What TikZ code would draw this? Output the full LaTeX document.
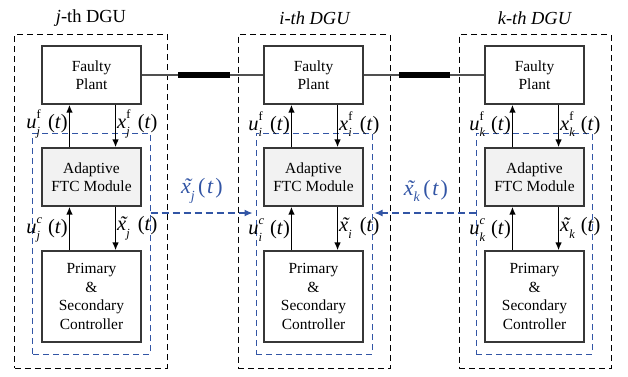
\documentclass[tikz,border=0pt]{standalone}
\usepackage{fontspec}
\setmainfont{Liberation Serif}
\usetikzlibrary{arrows.meta,calc}
\definecolor{dblue}{RGB}{50,85,165}
\definecolor{boxgray}{RGB}{55,55,55}
\definecolor{linegray}{RGB}{80,80,80}
\definecolor{ftcfill}{RGB}{242,242,242}
\newcommand{\lblfnt}{\fontsize{20.5}{20.5}\selectfont}
\newcommand{\scrfnt}{\fontsize{12.5}{12.5}\selectfont}
\newcommand{\xtil}{\makebox[0pt][l]{\hspace{0.12em}\textit{\char"02DC}}\textit{x}}
\newcommand{\subsup}[2]{\makebox[0.4em][l]{\rlap{\raisebox{0.5em}{\scrfnt #2}}\raisebox{-0.32em}{\scrfnt\textit{#1}}}}
\newcommand{\sigf}[3]{\textit{#1}\subsup{#2}{#3}\,(\textit{t})}
\newcommand{\bsig}[2]{\xtil\raisebox{-0.3em}{\fontsize{14}{14}\selectfont\textit{#2}}\hspace{0.15em}(\hspace{0.08em}\textit{t}\hspace{0.08em})}
\begin{document}
\begin{tikzpicture}[x=1bp,y=-1bp,
  blk/.style={draw=boxgray, line width=1.1bp, minimum width=99bp, align=center,
    font=\fontsize{15.5}{18.5}\selectfont, inner sep=0pt},
  plantbox/.style={blk, minimum height=58bp},
  ftcbox/.style={blk, fill=ftcfill, minimum height=58bp},
  ctrlbox/.style={blk, minimum height=91bp},
  outerbox/.style={draw=black, line width=1bp, dash pattern=on 6bp off 4bp, minimum width=152bp, minimum height=334bp, inner sep=0pt},
  bluebox/.style={draw=dblue, line width=1bp, dash pattern=on 6bp off 4bp, minimum width=116bp, minimum height=221bp, inner sep=0pt},
  sig/.style={line width=1.7bp, -{Latex[length=8bp,width=6.5bp]}},
  bluearrow/.style={draw=dblue, line width=1.2bp, dash pattern=on 7bp off 4bp, -{Latex[length=8bp,width=7bp]}},
  pline/.style={draw=linegray, line width=1.1bp},
  bus/.style={draw=black, line width=6bp},
  title/.style={font=\fontsize{18.5}{18.5}\selectfont},
  lbl/.style={font=\lblfnt, inner sep=0pt},
  blbl/.style={font=\fontsize{22}{22}\selectfont, text=dblue, inner sep=0pt}
]
\useasboundingbox (0,0) rectangle (628,376);

% outer DGU boxes
\node[outerbox] (dguj) at (91,201) {};
\node[outerbox] (dgui) at (314,201.5) {};
\node[outerbox] (dguk) at (535,201.5) {};

% titles
\node[title] (tj) at (91,18) {\textit{j}-th DGU};
\node[title] (ti) at (315,18) {\textit{i-th DGU}};
\node[title] (tk) at (535,18) {\textit{k-th DGU}};

% blue boxes
\node[bluebox, minimum width=117bp] (bluej) at (91.5,243.5) {};
\node[bluebox] (bluei) at (314,243.5) {};
\node[bluebox] (bluek) at (534,243.5) {};

% blocks
\foreach \n/\x in {j/91.5, i/313.5, k/534.5} {
  \node[plantbox] (plant\n) at (\x,75) {Faulty\\Plant};
  \node[ftcbox] (ftc\n) at (\x,177) {Adaptive\\FTC Module};
  \node[ctrlbox] (ctrl\n) at (\x,296.5) {Primary\\\&\\Secondary\\Controller};
  \draw[sig] ([xshift=28bp]ctrl\n.north west) -- ([xshift=28bp]ftc\n.south west);
  \draw[sig] ([xshift=28bp]ftc\n.north west) -- ([xshift=28bp]plant\n.south west);
  \draw[sig] ([xshift=-26bp]plant\n.south east) -- ([xshift=-26bp]ftc\n.north east);
  \draw[sig] ([xshift=-26bp]ftc\n.south east) -- ([xshift=-26bp]ctrl\n.north east);
}

% signal labels
\node[lbl, anchor=east] (ufj) at (68,124) {\sigf{u}{j}{f}};
\node[lbl, anchor=west] (xfj) at (117,124) {\sigf{x}{j}{f}};
\node[lbl, anchor=east] (ucj) at (68,230) {\sigf{u}{j}{\textit{c}}};
\node[lbl, anchor=west] (xtj) at (117,228) {\sigf{\xtil}{j}{}};

\node[lbl, anchor=east] (ufi) at (290,124) {\sigf{u}{i}{f}};
\node[lbl, anchor=west] (xfi) at (339,124) {\sigf{x}{i}{f}};
\node[lbl, anchor=east] (uci) at (290,230) {\sigf{u}{i}{\textit{c}}};
\node[lbl, anchor=west] (xti) at (339,228) {\sigf{\xtil}{i}{}};

\node[lbl, anchor=east] (ufk) at (511,124) {\sigf{u}{k}{f}};
\node[lbl, anchor=west] (xfk) at (560,124) {\sigf{x}{k}{f}};
\node[lbl, anchor=east] (uck) at (511,230) {\sigf{u}{k}{\textit{c}}};
\node[lbl, anchor=west] (xtk) at (560,228) {\sigf{\xtil}{k}{}};

% power lines
\draw[pline] (plantj.east) -- (planti.west);
\draw[pline] (planti.east) -- (plantk.west);
\coordinate (busj1) at (178,75);
\coordinate (busj2) at (230,75);
\coordinate (busk1) at (399,75);
\coordinate (busk2) at (450,75);
\draw[bus] (busj1) -- (busj2);
\draw[bus] (busk1) -- (busk2);

% exchanged states
\draw[bluearrow] (bluej.east |- 0,213) -- ([xshift=-3bp]bluei.west |- 0,213);
\draw[bluearrow] (bluek.west |- 0,213) -- ([xshift=2bp]bluei.east |- 0,213);
\node[blbl] (lxj) at (202,191) {\bsig{\~x}{j}};
\node[blbl] (lxk) at (426,191) {\bsig{\~x}{k}};
\end{tikzpicture}
\end{document}
